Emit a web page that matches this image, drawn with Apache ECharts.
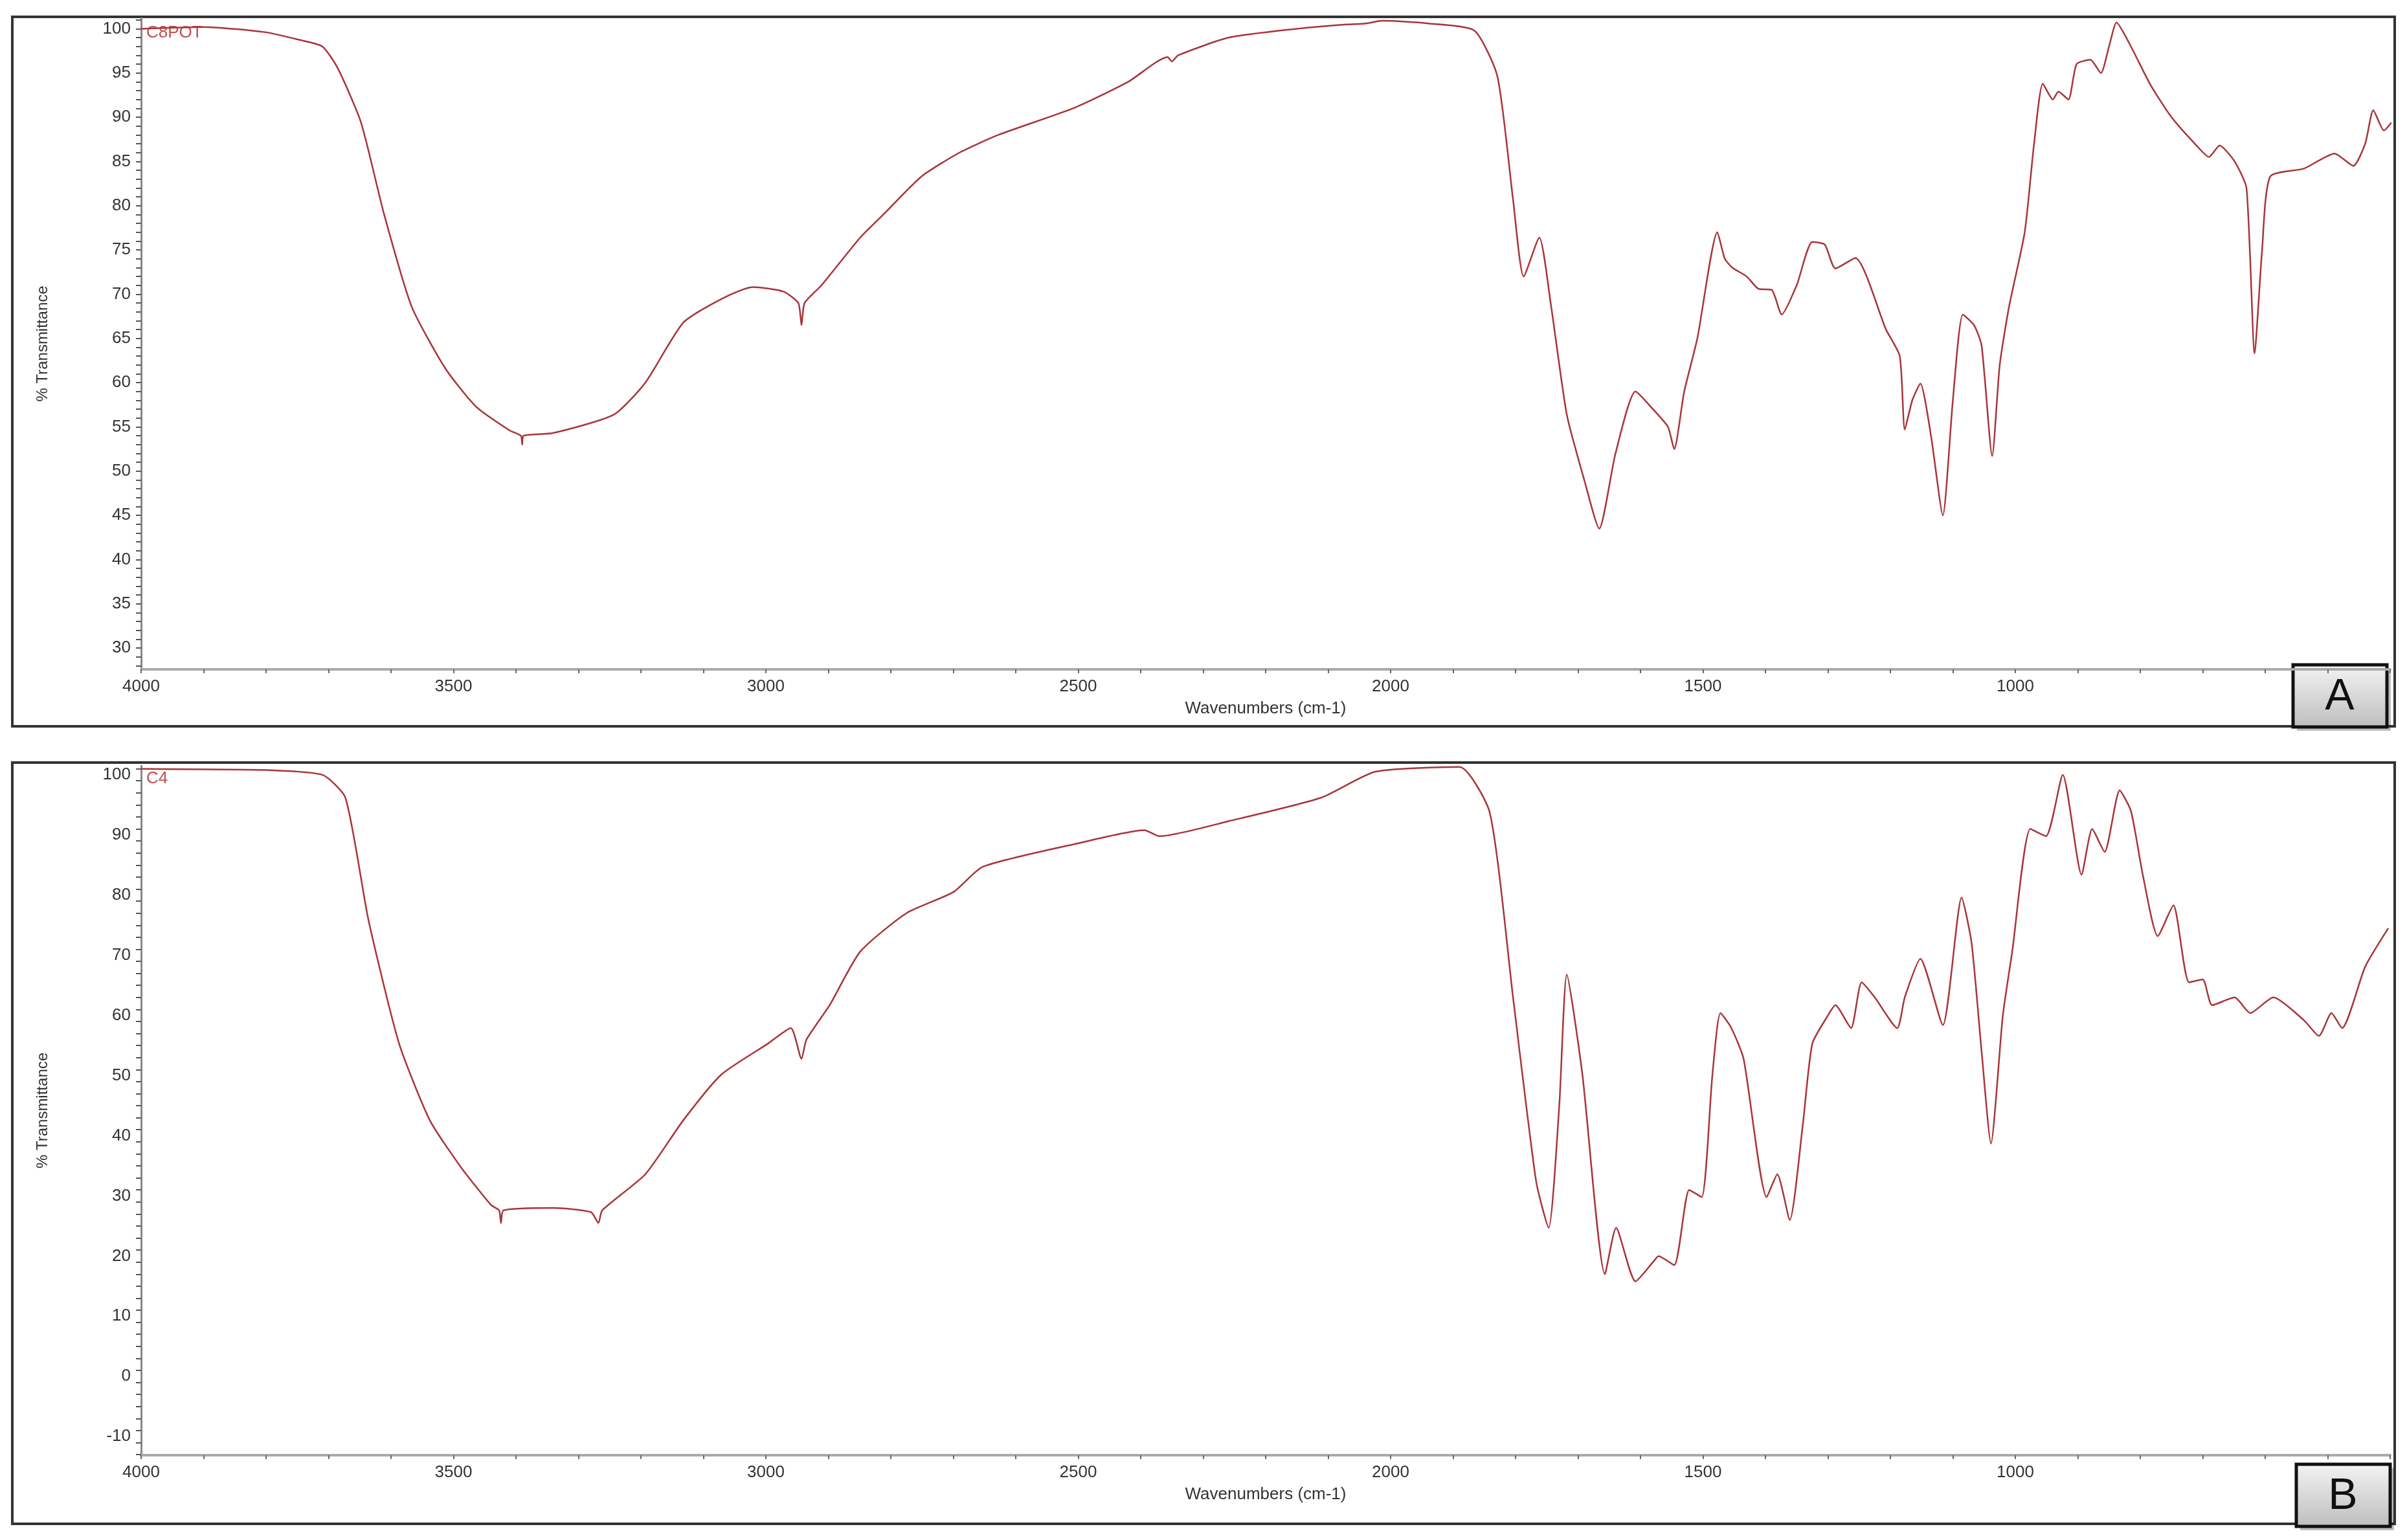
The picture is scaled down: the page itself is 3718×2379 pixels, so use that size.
<!DOCTYPE html>
<html><head><meta charset="utf-8">
<script src="https://cdn.jsdelivr.net/npm/echarts@6/dist/echarts.min.js"></script>
<style>html,body{margin:0;padding:0;background:#fff}#c{width:3718px;height:2379px}</style>
</head><body><div id="c"></div>
<script>
const seriesNames = ['C8POT', 'C4'];
const panelLabels = ['A', 'B'];
const xTickLabels = [4000, 3500, 3000, 2500, 2000, 1500, 1000];
const yTicksA = [30, 35, 40, 45, 50, 55, 60, 65, 70, 75, 80, 85, 90, 95, 100];
const yTicksB = [-10, 0, 10, 20, 30, 40, 50, 60, 70, 80, 90, 100];
const specA = [[4000,100],[3900,100.2],[3800,99.6],[3750,98.8],[3710,98],[3685,95.5],[3648,89.4],[3611,79],[3567,68.6],[3513,61.6],[3464,57.3],[3410,54.6],[3392,54],[3390,53],[3388,54],[3341,54.3],[3243,56.4],[3193,60],[3132,66.8],[3070,69.5],[3021,70.8],[2972,70.3],[2948,69],[2943,66.5],[2938,69],[2911,71],[2849,76.4],[2812,79],[2751,83.3],[2690,86],[2628,88],[2505,91.1],[2420,94],[2357,96.8],[2350,96.3],[2340,97],[2259,99],[2150,100],[2087,100.4],[2040,100.6],[2013,100.9],[1940,100.6],[1866,99.8],[1829,94.6],[1804,80.7],[1787,72],[1762,76.4],[1743,68.6],[1718,56.4],[1690,49],[1666,43.5],[1640,52],[1608,59],[1580,57],[1556,55],[1546,52.5],[1530,59],[1509,65],[1477,77],[1465,74],[1453,73],[1430,72],[1411,70.6],[1390,70.5],[1374,67.7],[1350,71],[1325,75.9],[1305,75.6],[1288,72.9],[1256,74.1],[1207,66],[1185,63],[1177,54.7],[1165,58],[1152,59.9],[1135,54],[1116,45],[1100,58],[1084,67.7],[1066,66.5],[1054,64.2],[1037,51.7],[1025,62],[1010,68.6],[985,77],[970,87],[956,93.8],[940,92],[931,92.9],[915,92],[902,96],[880,96.5],[863,95],[850,98],[838,100.7],[815,98],[784,93.7],[750,90],[710,86.8],[690,85.5],[673,86.8],[649,85],[630,82],[617,63.3],[605,75],[592,83.3],[538,84.2],[489,85.9],[459,84.5],[440,87],[427,90.8],[410,88.5],[398,89.4]];
const specB = [[4000,101],[3900,100.9],[3800,100.8],[3710,100],[3673,96.2],[3636,75.8],[3587,55.3],[3538,42.6],[3489,34.9],[3440,28.5],[3427,27.6],[3424,25.5],[3420,27.6],[3341,28],[3280,27.3],[3268,25.5],[3262,27.6],[3193,33.6],[3132,42.6],[3071,50.2],[2997,55.3],[2960,57.9],[2943,52.8],[2935,56],[2898,61.7],[2849,70.6],[2775,77],[2700,80.5],[2653,84.7],[2505,88.5],[2394,90.8],[2370,89.8],[2259,92.3],[2111,96.2],[2025,100.5],[1890,101.3],[1841,93.6],[1804,63],[1767,32.4],[1747,24.7],[1730,45],[1718,66.8],[1693,50.2],[1657,17],[1639,24.7],[1608,15.8],[1580,19],[1571,20],[1546,18.5],[1522,31],[1502,29.8],[1485,50],[1472,60.4],[1455,58],[1435,52.8],[1398,29.8],[1381,33.6],[1361,26],[1340,42],[1325,55.3],[1300,60],[1288,61.7],[1263,57.9],[1246,65.5],[1225,63],[1189,57.9],[1177,63],[1152,69.4],[1116,58.4],[1086,79.6],[1070,72],[1054,54],[1039,38.7],[1020,60],[1005,70.6],[976,91],[951,89.8],[924,100],[894,83.4],[877,91],[857,87.2],[833,97.4],[815,94],[796,83.4],[772,73.2],[747,78.3],[722,65.5],[700,66],[685,61.7],[649,63],[624,60.4],[587,63],[538,59.2],[514,56.6],[494,60.4],[477,57.9],[440,68.1],[403,74.5]];

const chart = echarts.init(document.getElementById('c'));
const lab = {fontSize: 26, color: '#333', fontFamily: 'Liberation Sans'};
function xAxis(gi){ return {gridIndex: gi, type:'value', inverse:true, min:400, max:4000, interval:100,
  axisLine:{show:true,onZero:false,lineStyle:{color:'#aaa',width:4}}, axisTick:{show:true,length:6,lineStyle:{color:'#666',width:2}},
  splitLine:{show:false}, axisLabel:Object.assign({margin:14, formatter:v=>xTickLabels.includes(v)?String(v):''}, lab),
  name:'Wavenumbers (cm-1)', nameLocation:'middle', nameGap:48, nameTextStyle:{fontSize:26,color:'#333',fontFamily:'Liberation Sans'}};}
function yAxis(gi, mn, mx, ticks){ const minor=[]; for(let v=Math.ceil(mn); v<=mx; v+=(gi?2:1)) minor.push(v);
  return {gridIndex:gi, type:'value', min:mn, max:mx,
  axisLine:{show:true,onZero:false,lineStyle:{color:'#888',width:3}}, axisTick:{show:true,length:8,customValues:minor,lineStyle:{color:'#555',width:2}},
  splitLine:{show:false}, axisLabel:Object.assign({customValues:ticks, margin:16}, lab),
  name:'% Transmittance', nameLocation:'middle', nameGap:140, nameTextStyle:{fontSize:24,color:'#333',fontFamily:'Liberation Sans'}};}
function box(x,y,t){ return {type:'group', children:[
  {type:'rect', shape:{x:x+6,y:y+6,width:145,height:96}, style:{fill:'rgba(0,0,0,0.25)'}},
  {type:'rect', shape:{x:x,y:y,width:145,height:96}, style:{fill:new echarts.graphic.LinearGradient(0,0,0,1,[{offset:0,color:'#f4f4f4'},{offset:1,color:'#bdbdbd'}]), stroke:'#111', lineWidth:5}},
  {type:'text', x:x+72, y:y+50, style:{text:t, fontSize:68, fill:'#111', align:'center', verticalAlign:'middle', fontFamily:'Liberation Sans'}}]};}
chart.setOption({
  animation:false,
  grid:[{left:218,right:26,top:28,height:1006},{left:218,right:26,top:1183,height:1065}],
  xAxis:[xAxis(0), xAxis(1)],
  yAxis:[yAxis(0,27.6,101.2,yTicksA), yAxis(1,-13.1,101.5,yTicksB)],
  series:[
    {name:seriesNames[0], type:'line', xAxisIndex:0, yAxisIndex:0, data:specA, showSymbol:false, smooth:0.2, lineStyle:{color:'#a83538',width:2.5}},
    {name:seriesNames[1], type:'line', xAxisIndex:1, yAxisIndex:1, data:specB, showSymbol:false, smooth:0.2, lineStyle:{color:'#a83538',width:2.5}}
  ],
  graphic:[
    {type:'rect', shape:{x:19,y:26,width:3680,height:1096}, style:{fill:'none',stroke:'#333',lineWidth:4}},
    {type:'rect', shape:{x:19,y:1178,width:3680,height:1176}, style:{fill:'none',stroke:'#333',lineWidth:4}},
    {type:'text', x:226, y:38, style:{text:seriesNames[0], fontSize:26, fill:'#c05050', fontFamily:'Liberation Sans'}},
    {type:'text', x:226, y:1190, style:{text:seriesNames[1], fontSize:26, fill:'#c05050', fontFamily:'Liberation Sans'}},
    box(3542,1027,panelLabels[0]), box(3547,2262,panelLabels[1])
  ]
});
</script></body></html>
